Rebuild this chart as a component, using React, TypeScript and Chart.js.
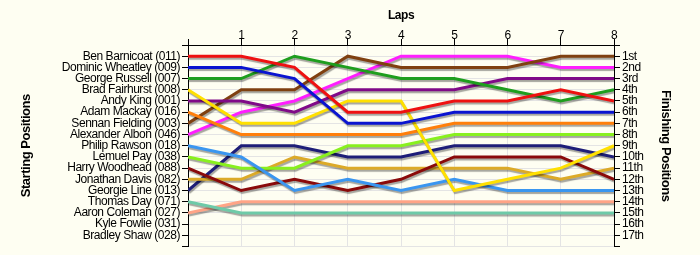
import React, { useEffect, useRef } from "react";
import { Chart, registerables } from "chart.js";

Chart.register(...registerables);

const laps = [0, 1, 2, 3, 4, 5, 6, 7, 8];

const drivers = [
  "Ben Barnicoat (011)",
  "Dominic Wheatley (009)",
  "George Russell (007)",
  "Brad Fairhurst (008)",
  "Andy King (001)",
  "Adam Mackay (016)",
  "Sennan Fielding (003)",
  "Alexander Albon (046)",
  "Philip Rawson (018)",
  "Lemuel Pay (038)",
  "Harry Woodhead (088)",
  "Jonathan Davis (082)",
  "Georgie Line (013)",
  "Thomas Day (071)",
  "Aaron Coleman (027)",
  "Kyle Fowlie (031)",
  "Bradley Shaw (028)",
];

const finishLabels = [
  "1st", "2nd", "3rd", "4th", "5th", "6th", "7th", "8th", "9th",
  "10th", "11th", "12th", "13th", "14th", "15th", "16th", "17th",
];

const benBarnicoat = [1, 1, 2, 6, 6, 5, 5, 4, 5];
const dominicWheatley = [2, 2, 3, 7, 7, 6, 6, 6, 6];
const georgeRussell = [3, 3, 1, 2, 3, 3, 4, 5, 4];
const bradFairhurst = [4, 7, 7, 5, 5, 13, 12, 11, 9];
const andyKing = [5, 5, 6, 4, 4, 4, 3, 3, 3];
const adamMackay = [6, 8, 8, 8, 8, 7, 7, 7, 7];
const sennanFielding = [7, 4, 4, 1, 2, 2, 2, 1, 1];
const alexanderAlbon = [8, 6, 5, 3, 1, 1, 1, 2, 2];
const philipRawson = [9, 10, 13, 12, 13, 12, 13, 13, 13];
const lemuelPay = [10, 11, 11, 9, 9, 8, 8, 8, 8];
const harryWoodhead = [11, 13, 12, 13, 12, 10, 10, 10, 12];
const jonathanDavis = [12, 12, 10, 11, 11, 11, 11, 12, 11];
const georgieLine = [13, 9, 9, 10, 10, 9, 9, 9, 10];
const thomasDay = [14, 15, 15, 15, 15, 15, 15, 15, 15];
const aaronColeman = [15, 14, 14, 14, 14, 14, 14, 14, 14];

const seriesList = [
  { name: drivers[0], values: benBarnicoat, color: "#ee1111" },
  { name: drivers[1], values: dominicWheatley, color: "#0a14d0" },
  { name: drivers[2], values: georgeRussell, color: "#1e9e1e" },
  { name: drivers[3], values: bradFairhurst, color: "#ffe000" },
  { name: drivers[4], values: andyKing, color: "#800a88" },
  { name: drivers[5], values: adamMackay, color: "#ff7f0a" },
  { name: drivers[6], values: sennanFielding, color: "#7f4010" },
  { name: drivers[7], values: alexanderAlbon, color: "#ff1eff" },
  { name: drivers[8], values: philipRawson, color: "#3a96f0" },
  { name: drivers[9], values: lemuelPay, color: "#88f01e" },
  { name: drivers[10], values: harryWoodhead, color: "#8a0a0a" },
  { name: drivers[11], values: jonathanDavis, color: "#dcaa28" },
  { name: drivers[12], values: georgieLine, color: "#1e1e78" },
  { name: drivers[13], values: thomasDay, color: "#6ecaa8" },
  { name: drivers[14], values: aaronColeman, color: "#ffa486" },
];

const shadowPlugin = {
  id: "lineShadow",
  beforeDraw(chart: any) {
    const c = chart.ctx as any;
    c.save();
    c.letterSpacing = "-0.45px";
  },
  afterDraw(chart: any) {
    chart.ctx.restore();
  },
  beforeDatasetDraw(chart: any) {
    const c = chart.ctx;
    c.save();
    c.shadowColor = "rgba(0,0,0,0.35)";
    c.shadowOffsetX = 1;
    c.shadowOffsetY = 2;
    c.shadowBlur = 1;
  },
  afterDatasetDraw(chart: any) {
    chart.ctx.restore();
  },
};

const FONT = "Arial, 'Liberation Sans', sans-serif";

export default function App() {
  const ref = useRef<HTMLCanvasElement | null>(null);

  useEffect(() => {
    if (!ref.current) return;
    const tickFont = { family: FONT, size: 12, lineHeight: 1 };
    const titleFont = { family: FONT, size: 12, weight: "bold" as const };
    const sideTitleFont = { family: FONT, size: 13, weight: "bold" as const };
    const chart = new Chart(ref.current, {
      type: "line",
      data: {
        datasets: seriesList.map((s) => ({
          label: s.name,
          data: laps.map((l, i) => ({ x: l, y: s.values[i] })),
          borderColor: s.color,
          backgroundColor: s.color,
          borderWidth: 3,
          pointRadius: 0,
          tension: 0,
          fill: false,
          yAxisID: "y",
        })),
      },
      options: {
        animation: false,
        responsive: false,
        maintainAspectRatio: false,
        layout: { padding: { left: 15, right: 23, top: 4, bottom: 8.5 } },
        plugins: {
          legend: { display: false },
          tooltip: { enabled: false },
        },
        scales: {
          x: {
            type: "linear",
            position: "top",
            min: 0,
            max: 8,
            ticks: {
              stepSize: 1,
              color: "#000",
              font: tickFont,
              padding: -3,
              callback: (v: any) => (v === 0 ? "" : String(v)),
            },
            grid: { color: "#e4e4e4", tickColor: "#000", tickLength: 6 },
            border: { color: "#000", width: 1 },
            title: {
              display: true,
              text: "Laps",
              color: "#000",
              font: titleFont,
              padding: { top: 4, bottom: 4 },
            },
            afterFit: (s: any) => {
              s.height = 41;
            },
          },
          y: {
            type: "linear",
            position: "left",
            reverse: true,
            min: 0,
            max: 18,
            ticks: {
              stepSize: 1,
              autoSkip: false,
              color: "#000",
              font: tickFont,
              padding: 2,
              callback: (v: any) => drivers[v - 1] ?? "",
            },
            grid: { color: "#e4e4e4", tickColor: "#000", tickLength: 6 },
            border: { color: "#000", width: 1 },
            title: {
              display: true,
              text: "Starting Positions",
              color: "#000",
              font: sideTitleFont,
              padding: { top: 4, bottom: 4 },
            },
            afterFit: (s: any) => {
              s.width = 173;
            },
          },
          y2: {
            type: "linear",
            position: "right",
            reverse: true,
            min: 0,
            max: 18,
            ticks: {
              stepSize: 1,
              autoSkip: false,
              color: "#000",
              font: tickFont,
              padding: 2,
              callback: (v: any) => finishLabels[v - 1] ?? "",
            },
            grid: { drawOnChartArea: false, tickColor: "#000", tickLength: 6 },
            border: { color: "#000", width: 1 },
            title: {
              display: true,
              text: "Finishing Positions",
              color: "#000",
              font: sideTitleFont,
              padding: { top: 4, bottom: 4 },
            },
            afterFit: (s: any) => {
              s.width = 63;
            },
          },
        },
      },
      plugins: [shadowPlugin],
    } as any);
    return () => chart.destroy();
  }, []);

  return (
    <div
      style={{
        position: "absolute",
        left: 0,
        top: 0,
        width: 700,
        height: 255,
        background: "#fefef2",
      }}
    >
      <canvas ref={ref} width={700} height={255} style={{ display: "block" }} />
    </div>
  );
}
